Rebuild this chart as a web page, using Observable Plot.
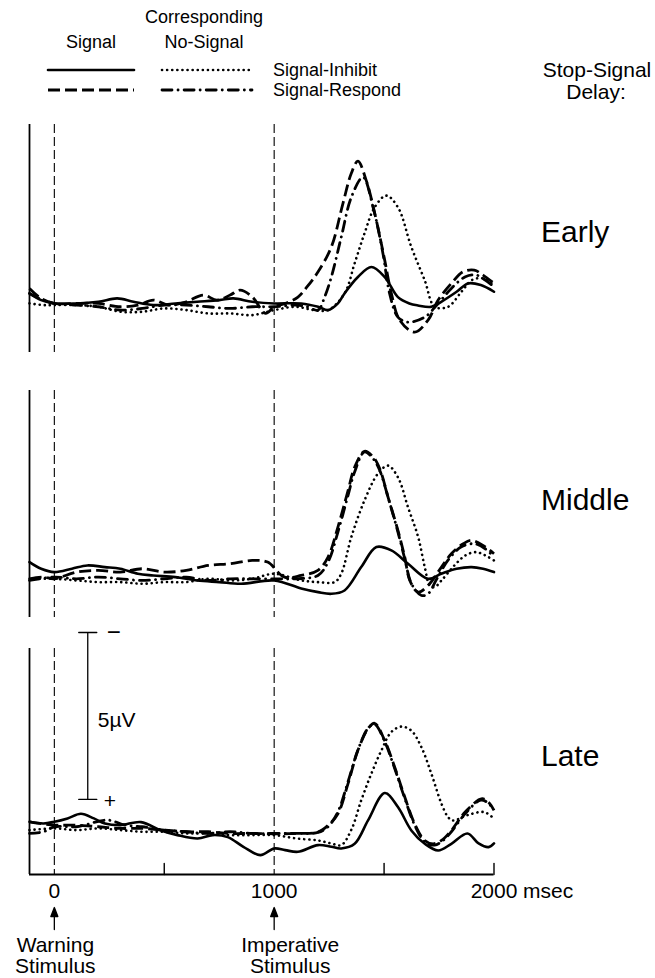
<!DOCTYPE html>
<html>
<head>
<meta charset="utf-8">
<script src="https://cdn.jsdelivr.net/npm/d3@7"></script>
<script src="https://cdn.jsdelivr.net/npm/@observablehq/plot@0.6"></script>
<style>
  body { margin: 0; background: #fff; }
  #wrap { position: relative; width: 655px; height: 978px; font-family: "Liberation Sans", Arial, Helvetica, sans-serif; }
  #wrap > svg, #wrap > div { position: absolute; left: 0; }
</style>
</head>
<body>
<div id="wrap"></div>
<script>
// ---------------- data (time in msec, amplitude in microvolts; negative plotted up) ----------------
const timeDomain = [-113, 2000];
const stimulusTimes = [0, 1000];
const axisTickLabels = [0, 1000, 2000];
const axisTickMarks = [500, 1500, 2000];
const delays = ["Early", "Middle", "Late"];
const legendConditions = ["Signal-Inhibit", "Signal-Respond"];
const legendColumns = ["Signal", "No-Signal"];

const earlySignalInhibit = [[-113,-0.3],[-60,-0.1],[0,0],[100,0],[200,-0.05],[286,-0.15],[360,-0.05],[450,0.05],[550,0],[650,-0.05],[750,-0.1],[815,-0.15],[900,-0.05],[1000,0],[1123,0],[1200,0.1],[1245,0.2],[1290,0],[1320,-0.3],[1381,-0.79],[1442,-1.09],[1503,-0.79],[1563,-0.19],[1615,0],[1654,0.06],[1715,0.1],[1760,-0.05],[1830,-0.35],[1882,-0.6],[1940,-0.55],[2000,-0.35]];
const earlyNoSignalInhibit = [[-113,0],[-50,0.05],[0,0.05],[100,0.05],[200,0.1],[300,0.25],[400,0.25],[500,0.15],[600,0.2],[700,0.3],[800,0.3],[900,0.35],[1000,0.2],[1100,0.1],[1180,0.2],[1245,0.2],[1320,-0.3],[1366,-1.2],[1411,-2.1],[1457,-2.88],[1510,-3.23],[1563,-2.88],[1624,-1.69],[1685,-0.69],[1730,0.1],[1791,0.1],[1852,-0.35],[1900,-0.7],[1950,-0.75],[2000,-0.55]];
const earlySignalRespond = [[-113,-0.45],[-60,-0.15],[0,0],[100,0],[200,0],[300,0.1],[380,0.05],[450,-0.1],[520,0.05],[600,-0.05],[677,-0.25],[740,-0.1],[800,-0.25],[845,-0.4],[900,-0.2],[961,0.3],[1000,0.1],[1050,0],[1108,-0.19],[1150,-0.5],[1199,-0.94],[1260,-1.69],[1313,-3.0],[1351,-3.9],[1381,-4.26],[1419,-3.68],[1465,-2.48],[1503,-1.29],[1533,-0.3],[1571,0.5],[1639,0.86],[1700,0.5],[1746,-0.1],[1806,-0.6],[1860,-0.95],[1910,-1.0],[1950,-0.85],[2000,-0.6]];
const earlyNoSignalRespond = [[-113,-0.3],[-50,-0.1],[0,0],[100,0.05],[200,0.1],[300,0.2],[400,0.15],[500,0.05],[600,0.05],[700,0.1],[800,0.15],[900,0.1],[1000,0.1],[1100,0.05],[1150,0.1],[1199,0.2],[1230,-0.2],[1260,-0.79],[1305,-1.98],[1351,-3.18],[1404,-3.78],[1450,-2.88],[1495,-1.49],[1525,-0.3],[1563,0.41],[1609,0.56],[1685,0.41],[1746,0],[1806,-0.45],[1870,-0.8],[1920,-0.85],[1960,-0.7],[2000,-0.5]];

const middleSignalInhibit = [[-113,-0.4],[-60,-0.2],[0,-0.1],[80,-0.2],[150,-0.3],[230,-0.25],[300,-0.2],[380,-0.05],[450,0],[550,0.05],[650,0.15],[750,0.2],[850,0.25],[1000,0.15],[1123,0.39],[1200,0.5],[1260,0.55],[1320,0.45],[1396,-0.25],[1465,-0.85],[1533,-0.75],[1609,-0.35],[1700,0.1],[1760,-0.05],[1830,-0.2],[1898,-0.25],[1950,-0.2],[2000,-0.1]];
const middleNoSignalInhibit = [[-113,0.1],[0,0.1],[100,0.15],[200,0.2],[300,0.2],[400,0.25],[500,0.2],[600,0.2],[700,0.1],[800,0.15],[900,0.1],[1000,-0.05],[1123,0.15],[1199,0.2],[1275,0.2],[1305,-0.05],[1351,-1.15],[1411,-2.25],[1472,-3.05],[1518,-3.29],[1563,-2.94],[1609,-2.04],[1655,-1.15],[1685,-0.25],[1708,0.3],[1730,0.35],[1761,0.15],[1820,-0.3],[1870,-0.6],[1918,-0.7],[1960,-0.6],[2000,-0.45]];
const middleSignalRespond = [[-113,0.1],[-50,0.05],[0,0.1],[100,-0.1],[200,-0.15],[300,-0.1],[400,-0.2],[500,-0.1],[600,-0.15],[700,-0.3],[800,-0.35],[900,-0.45],[970,-0.4],[1047,0.05],[1123,0],[1199,-0.15],[1245,-0.55],[1290,-1.45],[1336,-2.54],[1366,-3.24],[1411,-3.72],[1450,-3.55],[1480,-3.2],[1520,-2.3],[1563,-1.35],[1594,-0.55],[1617,0.15],[1655,0.5],[1700,0.3],[1761,-0.25],[1806,-0.65],[1860,-0.95],[1898,-1.05],[1950,-0.9],[2000,-0.65]];
const middleNoSignalRespond = [[-113,0.15],[0,0.05],[100,0.1],[200,0.05],[300,0.1],[400,0.15],[500,0.1],[600,0.05],[700,0.15],[800,0.1],[900,0.1],[1000,0.1],[1100,0.1],[1199,0],[1245,-0.4],[1290,-1.3],[1336,-2.4],[1366,-3.1],[1411,-3.7],[1450,-3.5],[1480,-3.15],[1520,-2.3],[1563,-1.3],[1594,-0.5],[1625,0.25],[1670,0.6],[1700,0.55],[1740,0.1],[1790,-0.45],[1850,-0.85],[1910,-0.95],[1960,-0.8],[2000,-0.55]];

const lateSignalInhibit = [[-113,-0.2],[-50,-0.15],[0,-0.2],[60,-0.3],[121,-0.44],[180,-0.3],[230,-0.15],[300,-0.1],[394,-0.19],[485,0.06],[560,0.2],[652,0.3],[720,0.2],[789,0.26],[860,0.55],[937,0.8],[1000,0.6],[1050,0.65],[1108,0.7],[1199,0.5],[1260,0.55],[1305,0.6],[1366,0.46],[1427,-0.24],[1503,-1.06],[1563,-0.64],[1624,0.06],[1685,0.46],[1746,0.66],[1806,0.46],[1879,0.15],[1930,0.45],[1975,0.56],[2000,0.45]];
const lateNoSignalInhibit = [[-113,0.05],[0,0],[100,0.05],[200,0],[300,0.05],[400,0.1],[500,0.1],[600,0.15],[700,0.15],[800,0.2],[900,0.2],[1000,0.2],[1100,0.3],[1199,0.36],[1260,0.45],[1305,0.5],[1351,0.04],[1396,-0.84],[1442,-1.64],[1488,-2.34],[1533,-2.89],[1579,-3.05],[1624,-2.93],[1670,-2.43],[1715,-1.64],[1761,-0.74],[1791,-0.34],[1812,-0.24],[1880,-0.4],[1956,-0.49],[2000,-0.29]];
const lateSignalRespond = [[-113,-0.2],[0,-0.1],[100,-0.1],[200,-0.05],[300,0],[400,0],[500,0.05],[600,0.1],[700,0.1],[800,0.15],[900,0.15],[1000,0.16],[1100,0.15],[1199,0.11],[1245,-0.09],[1290,-0.44],[1336,-1.34],[1381,-2.34],[1427,-2.99],[1457,-3.15],[1503,-2.63],[1548,-1.84],[1594,-0.94],[1639,-0.14],[1685,0.36],[1723,0.46],[1761,0.36],[1806,0.06],[1870,-0.5],[1946,-0.89],[1980,-0.75],[2000,-0.54]];
const lateNoSignalRespond = [[-113,0.15],[-50,0.1],[0,-0.05],[100,-0.05],[243,-0.25],[320,-0.1],[400,-0.05],[500,0.05],[600,0.1],[700,0.15],[800,0.1],[900,0.15],[1000,0.15],[1100,0.15],[1199,0.12],[1245,-0.05],[1290,-0.5],[1336,-1.4],[1381,-2.35],[1427,-3.0],[1457,-3.12],[1503,-2.6],[1548,-1.8],[1594,-0.9],[1639,-0.1],[1685,0.4],[1730,0.5],[1770,0.35],[1806,0.1],[1870,-0.45],[1940,-0.85],[1975,-0.75],[2000,-0.55]];

const scaleBar = {time: 152, from: -0.87, microvolts: 5};

// ---------------- styles & layout ----------------
const font = '"Liberation Sans", Arial, Helvetica, sans-serif';
const lineStyles = {
  signalInhibit:   {strokeWidth: 2.6, strokeDasharray: null, strokeLinecap: "round"},
  noSignalInhibit: {strokeWidth: 2.6, strokeDasharray: "0.1,5", strokeLinecap: "round"},
  signalRespond:   {strokeWidth: 2.8, strokeDasharray: "12,5", strokeLinecap: "butt"},
  noSignalRespond: {strokeWidth: 2.8, strokeDasharray: "10,6,0.1,6", strokeLinecap: "round"}
};
const panelSeries = {
  Early:  {signalInhibit: earlySignalInhibit, noSignalInhibit: earlyNoSignalInhibit, signalRespond: earlySignalRespond, noSignalRespond: earlyNoSignalRespond},
  Middle: {signalInhibit: middleSignalInhibit, noSignalInhibit: middleNoSignalInhibit, signalRespond: middleSignalRespond, noSignalRespond: middleNoSignalRespond},
  Late:   {signalInhibit: lateSignalInhibit, noSignalInhibit: lateNoSignalInhibit, signalRespond: lateSignalRespond, noSignalRespond: lateNoSignalRespond}
};
const panelLayout = {
  Early:  {top: 122, marginTop: 2, frame: 228, marginBottom: 2, yDomain: [1.47, -5.36], labelDy: 108},
  Middle: {top: 388, marginTop: 2, frame: 227, marginBottom: 2, yDomain: [1.26, -5.54], labelDy: 110},
  Late:   {top: 620, marginTop: 28, frame: 226, marginBottom: 104, yDomain: [1.38, -5.39], labelDy: 108}
};

const lineShape = {draw(ctx, l) { ctx.moveTo(0, 0); ctx.lineTo(0, -l); }};
const filledArrow = {draw(ctx, l) {
  ctx.moveTo(0, 0); ctx.lineTo(0, -l + 7);
  ctx.moveTo(-3.5, -l + 9); ctx.lineTo(0, -l); ctx.lineTo(3.5, -l + 9); ctx.closePath();
}};

const wrap = document.getElementById("wrap");

// ---------------- legend ----------------
const leg = d3.create("svg").attr("width", 655).attr("height", 122).style("top", "0px")
  .attr("font-family", font).attr("fill", "black");
leg.append("text").attr("x", 204).attr("y", 17).attr("dy", "0.35em").attr("text-anchor", "middle").attr("font-size", 18).text("Corresponding");
leg.append("text").attr("x", 91).attr("y", 42).attr("dy", "0.35em").attr("text-anchor", "middle").attr("font-size", 18).text(legendColumns[0]);
leg.append("text").attr("x", 204).attr("y", 42).attr("dy", "0.35em").attr("text-anchor", "middle").attr("font-size", 18).text(legendColumns[1]);
const legRows = [
  {label: legendConditions[0], y: 70, left: "signalInhibit", right: "noSignalInhibit"},
  {label: legendConditions[1], y: 90, left: "signalRespond", right: "noSignalRespond"}
];
for (const r of legRows) {
  for (const [key, x1, x2] of [[r.left, 48, 134], [r.right, 162, 252]]) {
    const s = lineStyles[key];
    leg.append("line").attr("x1", x1).attr("x2", x2).attr("y1", r.y).attr("y2", r.y)
      .attr("stroke", "black").attr("stroke-width", s.strokeWidth)
      .attr("stroke-dasharray", s.strokeDasharray).attr("stroke-linecap", s.strokeLinecap);
  }
  leg.append("text").attr("x", 273).attr("y", r.y).attr("dy", "0.35em").attr("font-size", 18).text(r.label);
}
leg.append("text").attr("x", 597).attr("y", 70).attr("dy", "0.35em").attr("text-anchor", "middle").attr("font-size", 21).text("Stop-Signal");
leg.append("text").attr("x", 596).attr("y", 92).attr("dy", "0.35em").attr("text-anchor", "middle").attr("font-size", 21).text("Delay:");
wrap.appendChild(leg.node());

// ---------------- panels ----------------
delays.forEach((name, idx) => {
  const L = panelLayout[name];
  const isLast = idx === delays.length - 1;
  const marks = [
    Plot.ruleX([timeDomain[0]], {stroke: "black", strokeWidth: 1.8}),
    Plot.ruleX(stimulusTimes, {stroke: "black", strokeWidth: 1.1, strokeDasharray: "9,4"})
  ];
  for (const key of ["noSignalInhibit", "noSignalRespond", "signalRespond", "signalInhibit"]) {
    const s = lineStyles[key];
    marks.push(Plot.line(panelSeries[name][key], {
      x: d => d[0], y: d => d[1], curve: "catmull-rom", stroke: "black",
      strokeWidth: s.strokeWidth, strokeDasharray: s.strokeDasharray, strokeLinecap: s.strokeLinecap, strokeLinejoin: "round"
    }));
  }
  marks.push(Plot.text([name], {frameAnchor: "top-right", dx: 47, dy: L.labelDy, textAnchor: "start", lineAnchor: "middle", fontSize: 30, text: d => d}));
  if (isLast) {
    marks.push(
      Plot.ruleY([L.yDomain[0]], {stroke: "black", strokeWidth: 1.8}),
      Plot.vector(axisTickMarks, {x: d => d, frameAnchor: "bottom", length: 11, rotate: 0, anchor: "start", shape: lineShape, stroke: "black", strokeWidth: 1.4}),
      Plot.text(axisTickLabels, {x: d => d, frameAnchor: "bottom", dy: 9, lineAnchor: "top", fontSize: 21, text: d => String(d)}),
      Plot.text(["msec"], {x: timeDomain[1], frameAnchor: "bottom", dy: 9, dx: 29, textAnchor: "start", lineAnchor: "top", fontSize: 21, text: d => d}),
      Plot.vector(stimulusTimes, {x: d => d, frameAnchor: "bottom", dy: 55, length: 22, rotate: 0, anchor: "start", shape: filledArrow, stroke: "black", fill: "black", strokeWidth: 1.3}),
      Plot.text(["Warning\nStimulus"], {x: stimulusTimes[0], frameAnchor: "bottom", dy: 63, dx: 1, lineAnchor: "top", lineHeight: 1.0, fontSize: 21, text: d => d}),
      Plot.text(["Imperative\nStimulus"], {x: stimulusTimes[1], frameAnchor: "bottom", dy: 63, dx: 16, lineAnchor: "top", lineHeight: 1.0, fontSize: 21, text: d => d}),
      // 5 microvolt calibration bar
      Plot.ruleX([scaleBar], {x: "time", y1: "from", y2: d => d.from - d.microvolts, stroke: "black", strokeWidth: 1.3}),
      Plot.vector([scaleBar.from, scaleBar.from - scaleBar.microvolts], {x: scaleBar.time, y: d => d, rotate: 90, length: 18, anchor: "middle", shape: lineShape, stroke: "black", strokeWidth: 1.4}),
      Plot.text([scaleBar], {x: "time", y: d => d.from - d.microvolts / 2, text: d => `${d.microvolts}µV`, dx: 10, dy: 4, textAnchor: "start", fontSize: 21}),
      Plot.text(["−"], {x: scaleBar.time, y: scaleBar.from - scaleBar.microvolts, dx: 26, fontSize: 24, text: d => d}),
      Plot.text(["+"], {x: scaleBar.time, y: scaleBar.from, dx: 22, dy: 2, fontSize: 21, text: d => d})
    );
  }
  const chart = Plot.plot({
    width: 655,
    height: L.marginTop + L.frame + L.marginBottom,
    marginLeft: 29, marginRight: 161.5, marginTop: L.marginTop, marginBottom: L.marginBottom,
    x: {domain: timeDomain, axis: null},
    y: {domain: L.yDomain, axis: null},
    style: {fontFamily: font, background: "transparent", overflow: "visible", color: "black"},
    marks
  });
  chart.style.top = L.top + "px";
  wrap.appendChild(chart);
});
</script>
</body>
</html>
